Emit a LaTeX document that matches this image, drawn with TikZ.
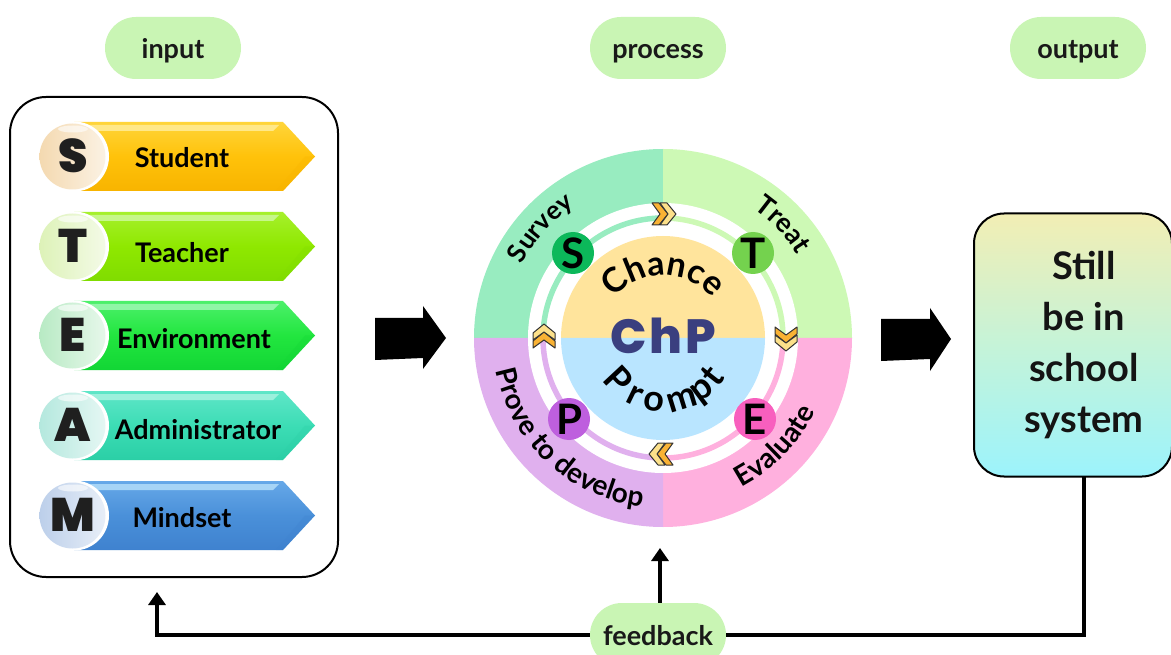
\documentclass[tikz,border=0pt]{standalone}
\usepackage{fontspec}
\usetikzlibrary{arrows.meta,decorations.text,calc,shapes.misc}
\setmainfont{Lato}
\newfontfamily\heavy{Poppins}[UprightFont=* Black]
\newfontfamily\chunk{Poppins}[UprightFont=* ExtraBold]
\definecolor{pillgreen}{HTML}{C9F5B4}
\definecolor{qS}{HTML}{98ECC0}\definecolor{qT}{HTML}{CDF9B5}
\definecolor{qE}{HTML}{FFB0DE}\definecolor{qP}{HTML}{E0B0EE}
\definecolor{inTop}{HTML}{FFE49C}\definecolor{inBot}{HTML}{B9E5FF}
\definecolor{bS}{HTML}{0CB85A}\definecolor{bT}{HTML}{74D24E}
\definecolor{bE}{HTML}{F85FBE}\definecolor{bP}{HTML}{BE5FDE}
\definecolor{chpblue}{HTML}{3A3F7F}
\definecolor{chevA}{HTML}{F9B234}\definecolor{chevB}{HTML}{FCE08A}
\definecolor{outA}{HTML}{F2EEB4}\definecolor{outB}{HTML}{C5F3D8}\definecolor{outC}{HTML}{9CF3FC}
\tikzset{
  x=1pt,y=-1pt,
  pill/.style={fill=pillgreen,draw=none,rounded rectangle,minimum width=136pt,minimum height=62pt,inner sep=0pt},
  pilltext/.style={font=\fontsize{27}{27}\selectfont\bfseries,text=black!90,inner sep=0pt,anchor=base},
  badge/.style={circle,minimum size=42pt,inner sep=0pt,font=\fontsize{42}{42}\selectfont\bfseries,text=black},
  flow/.style={line width=4pt,black,-{Triangle[length=13pt,width=17pt]}},
  flowplain/.style={line width=4pt,black},
  barlabel/.style={font=\fontsize{27}{27}\selectfont\bfseries,text=black,inner sep=0pt},
  bigarrow/.style={fill=black,draw=none},
  curved/.style={decorate,decoration={text along path,text align=center,text={#1}}},
  ringletter/.style={font=\fontsize{36}{36}\selectfont\bfseries,text=black,inner sep=0pt,anchor=base},
  chev/.pic={
    \foreach \d/\c in {-7/chevA,1/chevB}{
      \filldraw[draw=black!80,line width=1pt,fill=\c,line join=round]
        (\d-4,-11)--(\d+3,-11)--(\d+12,0)--(\d+3,11)--(\d-4,11)--(\d+4,0)--cycle;}
  }
}
\begin{document}
\begin{tikzpicture}
\useasboundingbox (0,0) rectangle (1171,655);
\clip (0,0) rectangle (1171,655);
\fill[white] (0,0) rectangle (1171,655);
% headers
\node[pill] (input) at (173,48) {};
\node[pilltext] (inputtext) at (173,59) {input};
\node[pill] (process) at (658,48) {};
\node[pilltext] (processtext) at (658,59) {process};
\node[pill] (output) at (1078,48) {};
\node[pilltext] (outputtext) at (1078,59) {output};
% input panel
\node[draw=black,line width=2pt,rounded corners=36pt,minimum width=328pt,minimum height=480pt,inner sep=0pt] (panel) at (174,337) {};
\foreach \n/\top/\lt/\lbl/\lx/\ly/\cT/\cM/\cB/\cH/\cP in {
  S/122/S/Student/182/158/FFD53A/FFC20A/F8B400/FFE889/F4D9B0,
  T/212/T/Teacher/182/253/A6F02C/8FE800/80DC00/C6F78A/DDF2B8,
  E/301/E/Environment/194/339/4CF06A/22E63F/12D635/90F6A6/B8EAC4,
  A/391/A/Administrator/198/430/5FE6C8/3CDDB5/2BCFA6/9CF0DC/B4E8DE,
  M/481/M/Mindset/182/518/66A8E8/4A90D9/3F82CF/A6D4F6/BCCFEA}{
  \definecolor{tT}{HTML}{\cT}\definecolor{tM}{HTML}{\cM}\definecolor{tB}{HTML}{\cB}\definecolor{tH}{HTML}{\cH}\definecolor{tP}{HTML}{\cP}
  \path[top color=tT,bottom color=tB,middle color=tM]
     (74,\top)--(283,\top)--(315,\top+34.5)--(283,\top+69)--(74,\top+69)--cycle;
  \fill[tH] (85,\top+3)--(279,\top+3)--(273,\top+9)--(85,\top+9)--cycle;
  \fill[tB,opacity=.3] (315,\top+34.5)--(283,\top+69)--(276,\top+69)--(305,\top+34.5)--cycle;
  \fill[white] (74,\top+34.5) circle[radius=35];
  \path[left color=tP,right color=tP!35!white] (72.5,\top+34.5) circle[radius=33];
  \fill[white,opacity=.6] (73,\top+7) ellipse[x radius=15,y radius=3.5];
  \node[font=\heavy\fontsize{47}{47}\selectfont,text=black!88,inner sep=0pt] (L\n) at (73,\top+33.5) {\lt};
  \node[barlabel] (W\n) at (\lx,\ly) {\lbl};
}
% big arrows
\coordinate (c) at (663,338);
\fill[bigarrow] (375,318)--(423,318)--(423,306)--(446,338)--(423,369)--(423,358)--(375,360)--cycle;
\fill[bigarrow] (881,319)--(930,319)--(930,308)--(951,339)--(930,371)--(930,359)--(881,361)--cycle;
% disc quadrants (the y axis points down, so angles run clockwise on the page)
\fill[qS] (c) -- +(-189,0) arc[start angle=180,end angle=270,radius=189] -- cycle;
\fill[qT] (c) -- +(0,-189) arc[start angle=-90,end angle=0,radius=189] -- cycle;
\fill[qE] (c) -- +(189,0) arc[start angle=0,end angle=90,radius=189] -- cycle;
\fill[qP] (c) -- +(0,189) arc[start angle=90,end angle=180,radius=189] -- cycle;
\fill[white] (c) circle[radius=135];
% thin ring
\draw[qS,line width=5.5pt] (c)+(180:120) arc[start angle=180,end angle=270,radius=120];
\draw[qT,line width=5.5pt] (c)+(-90:120) arc[start angle=-90,end angle=0,radius=120];
\draw[qE,line width=5.5pt] (c)+(0:120) arc[start angle=0,end angle=90,radius=120];
\draw[qP,line width=5.5pt] (c)+(90:120) arc[start angle=90,end angle=180,radius=120];
% inner disc
\fill[inTop] (c)+(-102,0) arc[start angle=180,end angle=360,radius=102] -- cycle;
\fill[inBot] (c)+(-102,0) arc[start angle=180,end angle=0,radius=102] -- cycle;
% chevrons
\pic at (663,214) {chev};
\pic[rotate=-90] at (786,338) {chev};
\pic[rotate=180] at (662,454) {chev};
\pic[rotate=90] at (544,337) {chev};
% badges
\node[badge,fill=bS] (bs) at (573,253) {S};
\node[badge,fill=bT] (bt) at (753,253) {T};
\node[badge,fill=bE] (be) at (755,419) {E};
\node[badge,fill=bP] (bp) at (569,419) {P};
% curved text
\path[curved={|\fontsize{26}{26}\selectfont\bfseries|Survey}] (c)+(-178:159) arc[start angle=-178,end angle=-98,radius=159];
\path[curved={|\fontsize{27}{27}\selectfont\bfseries|Treat}] (c)+(-83.5:158) arc[start angle=-83.5,end angle=-3.5,radius=158];
\path[curved={|\fontsize{28}{28}\selectfont\bfseries|Evaluate}] (c)+(94:169) arc[start angle=94,end angle=-6,radius=169];
\path[curved={|\fontsize{28}{28}\selectfont\bfseries|Prove to develop}] (c)+(-167:170) arc[start angle=-167,end angle=-287,radius=170];
\path[curved={|\fontsize{34}{34}\selectfont\bfseries|Chance}] (c)+(-150:63) arc[start angle=-150,end angle=-30,radius=63];
\foreach \ch/\a [count=\i] in {P/137,r/116,o/98,m/73,p/53,t/38}{
  \node[ringletter,rotate={90-\a}] (prompt\i) at ($(c)+(\a:74)$) {\ch};
}
\node[font=\chunk\fontsize{48}{48}\selectfont,text=chpblue,inner sep=0pt] (chp) at (663,336) {C\kern3pt h\kern3pt P};
% output
\node[draw=black,line width=2pt,rounded corners=30pt,minimum width=198pt,minimum height=263pt,inner sep=0pt,
  top color=outA,bottom color=outC,middle color=outB] (result) at (1073,345) {};
\node[font=\fontsize{38}{51}\selectfont\bfseries,align=center,inner sep=0pt,text=black!92] (resulttext) at (1084,345) {Still\\be in\\school\\system};
% feedback
\node[pill,minimum height=64pt] (feedback) at (658,635) {};
\node[pilltext] (feedbacktext) at (658,645) {feedback};
\coordinate (fbIn) at (157,592);
\coordinate (fbDisc) at (660,548);
\coordinate (fbStart) at (1084,476);
\draw[flowplain] (fbStart) |- (feedback.east);
\draw[flow] (feedback.west) -| (fbIn);
\draw[flow] (feedback.north -| fbDisc) -- (fbDisc);
\end{tikzpicture}
\end{document}
